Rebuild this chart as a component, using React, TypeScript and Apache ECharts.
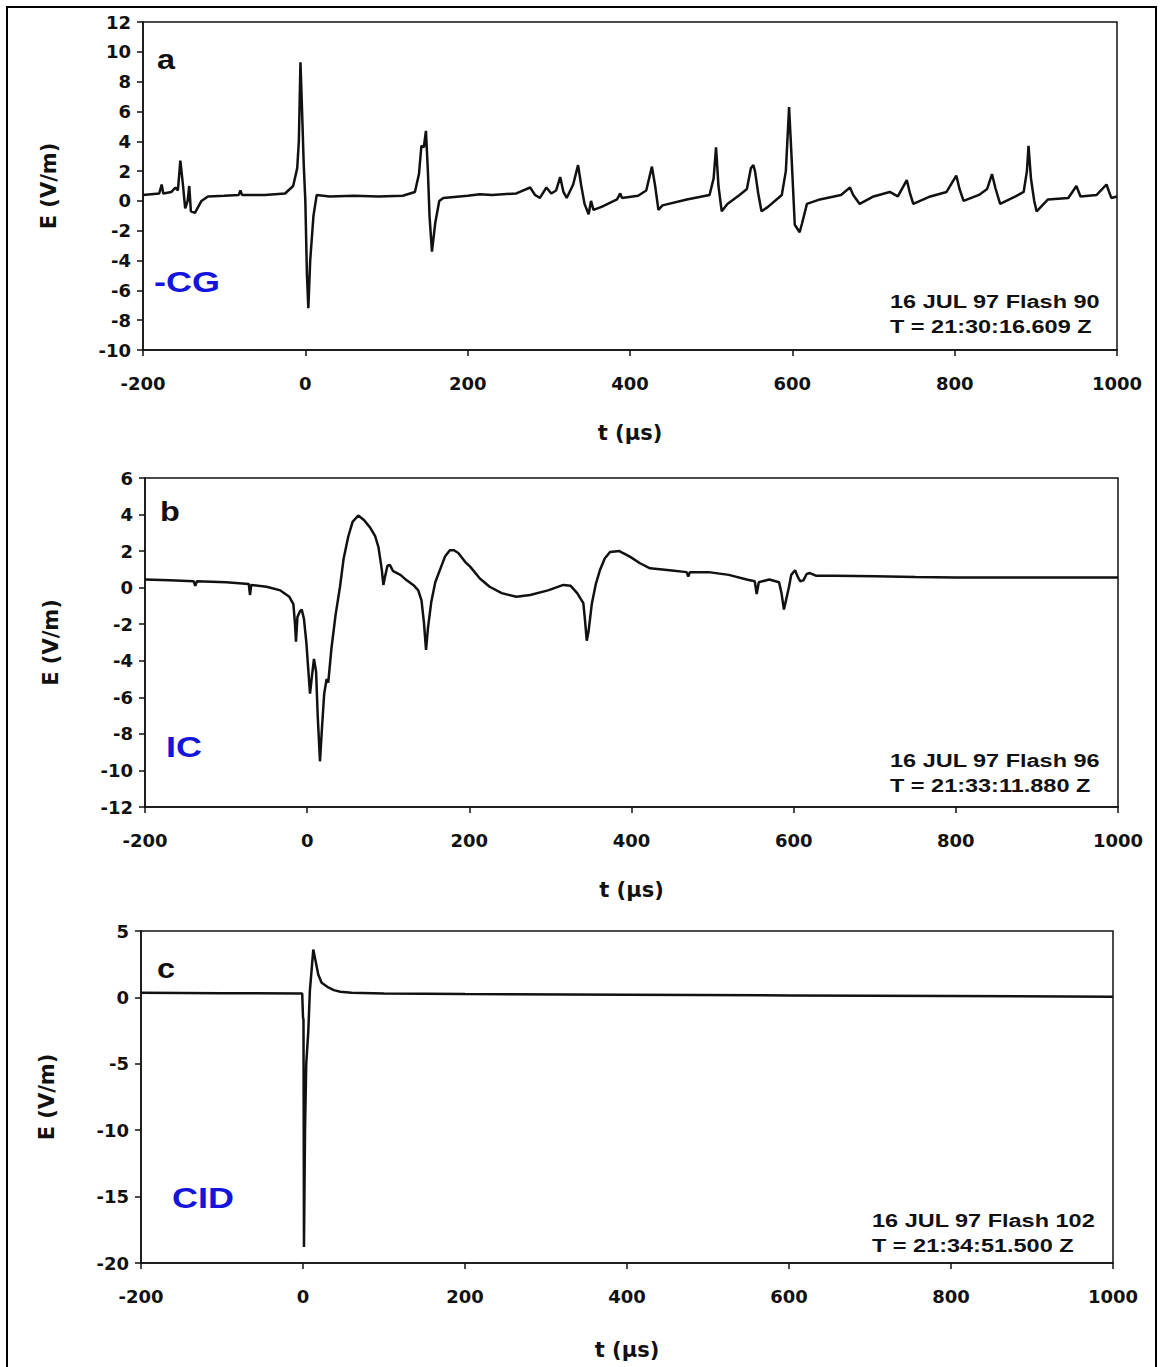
import React, { useEffect, useRef } from "react";
import * as echarts from "echarts";

// ---------- Data ----------
const timeTicks = [-200, 0, 200, 400, 600, 800, 1000];

// Panel a: -CG (16 JUL 97 Flash 90)
const tA = [
  -200, -190, -180, -177, -175, -165, -160, -157, -154, -151, -148, -145, -143, -141, -136, -128, -120, -100,
  -82, -80, -78, -50, -25, -15, -10, -8, -6, -4, -2, 0, 2, 3.7, 6, 10, 14, 30, 60, 90, 120, 135, 140, 143, 146,
  148.6, 151, 153, 156, 160, 165, 170, 200, 215, 230, 260, 277, 283, 289, 297, 303, 309, 314, 318, 322, 330, 336,
  340, 344, 349, 352, 355, 365, 384, 388, 390, 410, 420, 427, 431, 435, 440, 470, 498, 503, 506, 509, 513, 520,
  535, 544, 549, 552, 554, 558, 562, 570, 587, 592, 596, 599, 603, 609, 612, 618, 634, 660, 671, 675, 683, 700,
  720, 730, 741, 745, 749, 770, 790, 802, 806, 811, 830, 840, 846, 850, 856, 875, 885, 889, 891, 894, 898, 901,
  915, 940, 950, 955, 975, 987, 993, 1000,
];
const eA = [
  0.4, 0.45, 0.5, 1.1, 0.5, 0.6, 0.9, 0.7, 2.7, 1.2, -0.5, 0.0, 1.0, -0.7, -0.8, 0.0, 0.3, 0.35,
  0.4, 0.7, 0.4, 0.4, 0.5, 1.0, 2.2, 4.0, 9.3, 6.0, 2.5, 0.0, -5.0, -7.2, -4.0, -1.0, 0.4, 0.3, 0.35, 0.3, 0.35, 0.6, 1.8, 3.7, 3.6,
  4.7, 2.0, -1.0, -3.4, -1.5, 0.0, 0.2, 0.35, 0.45, 0.4, 0.5, 0.9, 0.4, 0.2, 0.9, 0.5, 0.7, 1.6, 0.6, 0.2, 1.1, 2.4,
  1.0, -0.2, -0.9, 0.0, -0.6, -0.4, 0.1, 0.5, 0.2, 0.35, 0.7, 2.3, 1.0, -0.6, -0.3, 0.1, 0.4, 1.5, 3.6, 1.0, -0.7, -0.2,
  0.4, 0.8, 2.2, 2.4, 2.0, 0.5, -0.7, -0.4, 0.4, 2.0, 6.3, 3.0, -1.6, -2.1, -1.5, -0.2, 0.1, 0.4, 0.9, 0.4, -0.2, 0.3,
  0.6, 0.3, 1.4, 0.5, -0.2, 0.3, 0.6, 1.7, 0.8, 0.0, 0.4, 0.8, 1.8, 0.9, -0.2, 0.3, 0.6, 2.0, 3.7, 1.5, 0.0, -0.7,
  0.1, 0.2, 1.0, 0.3, 0.4, 1.1, 0.2, 0.3,
];

// Panel b: IC (16 JUL 97 Flash 96)
const tB = [
  -200, -170, -140, -138, -136, -100, -72, -70.5, -69, -50, -33, -22, -17, -15, -13.8, -12, -9, -6.7, -4, -1,
  1.4, 3.5, 6, 8.4, 11, 13, 15.8, 18.5, 21, 24, 26, 30, 35, 40.5, 45, 50.7, 56, 63, 70, 77.5, 84, 88, 90, 92, 94,
  96, 99, 102, 106, 115, 122.8, 132, 137, 141, 144, 146.6, 149, 153, 158, 164, 170, 176, 181, 186.4, 195, 201,
  213, 225, 240, 258, 275, 297, 316, 325, 333, 340.6, 342.7, 344.8, 347, 351, 356, 361, 367, 373.5, 385, 398,
  410, 422.8, 447, 468, 470, 472, 495, 520, 542, 552, 554.4, 557, 570, 582, 585, 588, 591, 594, 597, 601.7, 605,
  608, 612, 616, 620, 628, 650, 700, 750, 800, 850, 900, 950, 1000,
];
const eB = [
  0.45, 0.4, 0.35, 0.1, 0.35, 0.3, 0.2, -0.4, 0.15, 0.05, -0.15, -0.5, -0.9, -2.0, -2.95, -1.6, -1.3, -1.2, -1.7, -3.0,
  -4.5, -5.8, -4.8, -3.9, -4.6, -7.0, -9.5, -7.5, -5.8, -5.0, -5.2, -3.3, -1.5, 0.05, 1.6, 2.8, 3.6, 3.95, 3.7, 3.3, 2.8, 2.2, 1.6, 1.0, 0.15,
  0.6, 1.2, 1.25, 0.9, 0.7, 0.4, 0.1, -0.15, -0.7, -1.9, -3.4, -2.2, -0.8, 0.3, 1.0, 1.7, 2.05, 2.05, 1.9, 1.4, 1.15,
  0.5, 0.05, -0.3, -0.5, -0.4, -0.15, 0.15, 0.1, -0.3, -0.85, -1.8, -2.9, -2.4, -0.9, 0.2, 0.95, 1.6, 1.95, 2.0, 1.7,
  1.35, 1.06, 0.95, 0.85, 0.6, 0.85, 0.85, 0.7, 0.45, 0.35, -0.35, 0.3, 0.45, 0.3, -0.3, -1.2, -0.6, 0.0, 0.7, 0.95, 0.6,
  0.35, 0.4, 0.75, 0.8, 0.65, 0.65, 0.62, 0.58, 0.55, 0.55, 0.55, 0.55, 0.55,
];

// Panel c: CID (16 JUL 97 Flash 102)
const tC = [
  -200, -100, -1, 0, 0.6, 1.2, 2.5, 4, 6.5, 8.5, 12.7, 16, 18.9, 23, 30, 38, 46, 60, 100, 200, 400, 600, 800, 1000,
];
const eC = [
  0.35, 0.32, 0.3, -1.5, -1.7, -18.8, -10, -5, -2.6, 0.5, 3.6, 2.6, 1.7, 1.1, 0.8, 0.55, 0.43, 0.35, 0.3, 0.25, 0.2, 0.15, 0.1, 0.05,
];

// Y-axis ranges / intervals per panel
const yRangeA = [-10, 12, 2];
const yRangeB = [-12, 6, 2];
const yRangeC = [-20, 5, 5];

const panelLetters = ["a", "b", "c"];
const panelTypes = ["-CG", "IC", "CID"];
const stampLine1 = ["16 JUL 97 Flash 90", "16 JUL 97 Flash 96", "16 JUL 97 Flash 102"];
const stampLine2 = ["T = 21:30:16.609 Z", "T = 21:33:11.880 Z", "T = 21:34:51.500 Z"];

// ---------- Layout ----------
const grids = [
  { left: 143, top: 22, width: 974, height: 328 },
  { left: 145, top: 478, width: 973, height: 329 },
  { left: 141, top: 931, width: 972, height: 332 },
];
const letterPos = [
  [157, 59],
  [160, 511],
  [157, 968],
];
const typePos = [
  [154, 282],
  [166, 747],
  [172, 1198],
];
const stampPos = [
  [890, 301],
  [890, 760],
  [872, 1220],
];

const ARIAL = "'Liberation Sans', Arial, sans-serif";
const DEJAVU = "'DejaVu Sans', sans-serif";

export default function App() {
  const ref = useRef<HTMLDivElement>(null);

  useEffect(() => {
    if (!ref.current) return;
    const chart = echarts.init(ref.current, undefined, { renderer: "svg" });

    const series = [
      [tA, eA],
      [tB, eB],
      [tC, eC],
    ].map(([ts, es], i) => ({
      type: "line",
      xAxisIndex: i,
      yAxisIndex: i,
      showSymbol: false,
      symbol: "none",
      data: ts.map((t, k) => [t, es[k]]),
      lineStyle: { color: "#111", width: 2.5 },
      z: 3,
    }));

    const ranges = [yRangeA, yRangeB, yRangeC];

    const xAxes = grids.map((_, i) => ({
      type: "value",
      gridIndex: i,
      min: timeTicks[0],
      max: timeTicks[timeTicks.length - 1],
      interval: 200,
      name: "t (µs)",
      nameLocation: "middle",
      nameGap: i === 2 ? 76 : 72,
      nameTextStyle: { fontFamily: DEJAVU, fontWeight: "bold", fontSize: 21, color: "#111" },
      axisLine: { show: true, onZero: false, lineStyle: { color: "#111", width: 1.5 } },
      axisTick: { show: true, inside: false, length: 6, lineStyle: { color: "#111", width: 1.5 } },
      axisLabel: {
        margin: 24,
        fontFamily: DEJAVU,
        fontWeight: "bold",
        fontSize: 18,
        color: "#111",
        formatter: (v: number) => String(v),
      },
      splitLine: { show: false },
    }));

    const yAxes = grids.map((_, i) => ({
      type: "value",
      gridIndex: i,
      min: ranges[i][0],
      max: ranges[i][1],
      interval: ranges[i][2],
      name: "E (V/m)",
      nameLocation: "middle",
      nameGap: 84,
      nameTextStyle: { fontFamily: DEJAVU, fontWeight: "bold", fontSize: 21, color: "#111" },
      axisLine: { show: true, onZero: false, lineStyle: { color: "#111", width: 1.5 } },
      axisTick: { show: true, inside: false, length: 6, lineStyle: { color: "#111", width: 1.5 } },
      axisLabel: {
        margin: 12,
        fontFamily: DEJAVU,
        fontWeight: "bold",
        fontSize: 18,
        color: "#111",
        formatter: (v: number) => String(v),
      },
      splitLine: { show: false },
    }));

    const graphics: any[] = [
      {
        type: "rect",
        shape: { x: 7, y: 7, width: 1149, height: 1375 },
        style: { fill: "none", stroke: "#000", lineWidth: 2 },
        silent: true,
      },
    ];
    for (let i = 0; i < 3; i++) {
      graphics.push({
        type: "text",
        x: letterPos[i][0],
        y: letterPos[i][1],
        scaleX: 1.2,
        style: {
          text: panelLetters[i],
          fontFamily: ARIAL,
          fontWeight: "bold",
          fontSize: 27,
          fill: "#111",
          textAlign: "left",
          textVerticalAlign: "middle",
        },
      });
      graphics.push({
        type: "text",
        x: typePos[i][0],
        y: typePos[i][1],
        scaleX: 1.2,
        style: {
          text: panelTypes[i],
          fontFamily: ARIAL,
          fontWeight: "bold",
          fontSize: 30,
          fill: "#1414dc",
          textAlign: "left",
          textVerticalAlign: "middle",
        },
      });
      graphics.push({
        type: "text",
        x: stampPos[i][0],
        y: stampPos[i][1],
        scaleX: 1.27,
        style: {
          text: stampLine1[i],
          fontFamily: ARIAL,
          fontWeight: "bold",
          fontSize: 18.5,
          fill: "#111",
          textAlign: "left",
          textVerticalAlign: "middle",
        },
      });
      graphics.push({
        type: "text",
        x: stampPos[i][0],
        y: stampPos[i][1] + 25,
        scaleX: 1.27,
        style: {
          text: stampLine2[i],
          fontFamily: ARIAL,
          fontWeight: "bold",
          fontSize: 18.5,
          fill: "#111",
          textAlign: "left",
          textVerticalAlign: "middle",
        },
      });
    }

    chart.setOption({
      animation: false,
      backgroundColor: "#fff",
      grid: grids.map((g) => ({
        ...g,
        show: true,
        borderColor: "#111",
        borderWidth: 1.5,
        backgroundColor: "transparent",
        containLabel: false,
      })),
      xAxis: xAxes,
      yAxis: yAxes,
      series,
      graphic: graphics,
    });

    return () => chart.dispose();
  }, []);

  return (
    <div
      ref={ref}
      style={{ position: "absolute", left: 0, top: 0, width: 1163, height: 1367 }}
    />
  );
}
